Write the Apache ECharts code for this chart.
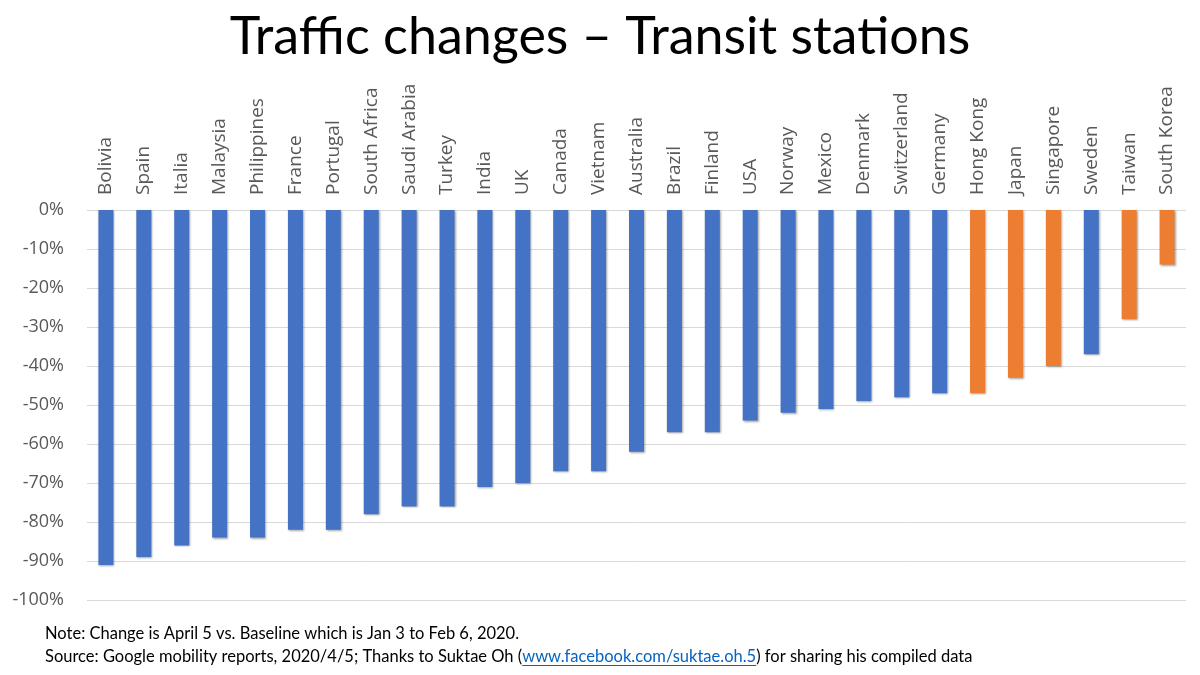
<!DOCTYPE html>
<html>
<head>
<meta charset="utf-8">
<script src="https://cdn.jsdelivr.net/npm/echarts@6/dist/echarts.min.js"></script>
<style>html,body{margin:0;padding:0;background:#fff}#c{width:1200px;height:675px}</style>
</head>
<body>
<div id="c"></div>
<script>
const countries = ['Bolivia','Spain','Italia','Malaysia','Philippines','France','Portugal','South Africa','Saudi Arabia','Turkey','India','UK','Canada','Vietnam','Australia','Brazil','Finland','USA','Norway','Mexico','Denmark','Switzerland','Germany','Hong Kong','Japan','Singapore','Sweden','Taiwan','South Korea'];
const changes = [-91,-89,-86,-84,-84,-82,-82,-78,-76,-76,-71,-70,-67,-67,-62,-57,-57,-54,-52,-51,-49,-48,-47,-47,-43,-40,-37,-28,-14];
const highlighted = ['Hong Kong','Japan','Singapore','Taiwan','South Korea'];
const yTicks = [0,-10,-20,-30,-40,-50,-60,-70,-80,-90,-100];
const noteText = 'Note: Change is April 5 vs. Baseline which is Jan 3 to Feb 6, 2020.';
const srcPre = 'Source: Google mobility reports, 2020/4/5; Thanks to Suktae Oh (';
const srcLink = 'www.facebook.com/suktae.oh.5';
const srcPost = ') for sharing his compiled data';

const BLUE = '#4472C4', ORANGE = '#ED7D31', LINK = '#0563C1';
const FOOT_FONT = '16.5px Lato';
const ctx = document.createElement('canvas').getContext('2d');
ctx.font = FOOT_FONT;
const preW = ctx.measureText(srcPre).width;
const linkW = ctx.measureText(srcLink).width;
const footX = 45, line2Top = 648;

const chart = echarts.init(document.getElementById('c'), null, {renderer:'canvas'});
chart.setOption({
  backgroundColor:'#fff',
  animation:false,
  title:{
    text:'Traffic changes – Transit stations',
    left:'center', top:6,
    textStyle:{fontFamily:'Lato', fontWeight:'normal', fontSize:52, color:'#000'}
  },
  grid:{left:87, right:14, top:210, bottom:75, containLabel:false},
  xAxis:{
    type:'category', position:'top', data:countries,
    axisLine:{show:false}, axisTick:{show:false},
    axisLabel:{rotate:90, margin:15, fontFamily:'Open Sans', fontSize:19, color:'#595959', interval:0}
  },
  yAxis:{
    type:'value', min:-100, max:0, interval:10,
    axisLine:{show:false}, axisTick:{show:false},
    axisLabel:{formatter: v => yTicks.includes(v) ? v + '%' : '', fontFamily:'Open Sans', fontSize:18, color:'#595959', margin:23},
    splitLine:{lineStyle:{color:'#d9d9d9', width:1}}
  },
  series:[{
    type:'bar', barWidth:15,
    data: changes.map((v,i)=>({value:v, itemStyle:{color: highlighted.includes(countries[i]) ? ORANGE : BLUE}})),
    itemStyle:{shadowColor:'rgba(0,0,0,0.35)', shadowBlur:2, shadowOffsetX:1, shadowOffsetY:1}
  }],
  graphic:[
    {type:'text', left:footX, top:625, style:{text:noteText, font:FOOT_FONT, fill:'#000'}},
    {type:'text', left:footX, top:line2Top, style:{
      text: srcPre + '{l|' + srcLink + '}' + srcPost,
      font:FOOT_FONT, fill:'#000',
      rich:{l:{fill:LINK, font:FOOT_FONT}}
    }},
    {type:'rect', shape:{x:footX + preW, y:line2Top + 17, width:linkW, height:1}, style:{fill:LINK}}
  ]
});
</script>
</body>
</html>
